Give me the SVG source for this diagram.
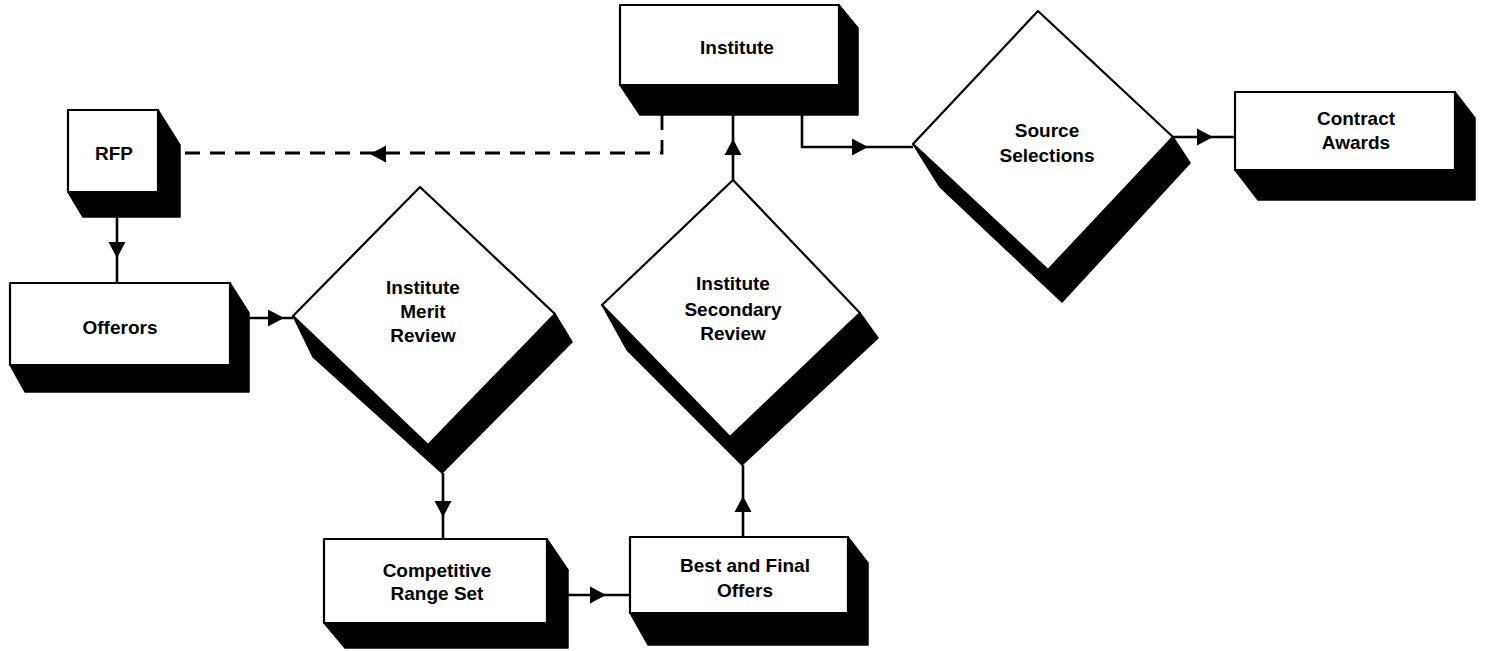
<svg xmlns="http://www.w3.org/2000/svg" xmlns:xlink="http://www.w3.org/1999/xlink" width="1487" height="651" viewBox="0 0 1487 651">
<style>
.bg{fill:#fff}
.face{fill:#fff;stroke:#000;stroke-width:2.2;stroke-linejoin:round}
.shadow{fill:#000;stroke:#000;stroke-width:1.5;stroke-linejoin:round}
.lbl{font-family:"Liberation Sans",Arial,Helvetica,sans-serif;font-weight:bold;font-size:19px;fill:#000;text-anchor:middle}
.conn{fill:none;stroke:#000;stroke-width:2.6}
.dash{fill:none;stroke:#000;stroke-width:2.8;stroke-dasharray:15 10}
.ah{fill:#000}
</style>
<defs>
<path id="ah" d="M0,0 L-16,-8.5 L-16,8.5 Z"/>
</defs>
<rect class="bg" x="0" y="0" width="1487" height="651"/>

<g id="connectors">
  <path class="conn" d="M117,217 V283"/>
  <use xlink:href="#ah" class="ah" transform="translate(117,258) rotate(90)"/>
  <path class="conn" d="M249,318 H293"/>
  <use xlink:href="#ah" class="ah" transform="translate(284,318)"/>
  <path class="conn" d="M443,473 V539"/>
  <use xlink:href="#ah" class="ah" transform="translate(443,517) rotate(90)"/>
  <path class="conn" d="M568,595 H630"/>
  <use xlink:href="#ah" class="ah" transform="translate(606,595)"/>
  <path class="conn" d="M743,537 V465"/>
  <use xlink:href="#ah" class="ah" transform="translate(743,496) rotate(-90)"/>
  <path class="conn" d="M733,180 V115"/>
  <use xlink:href="#ah" class="ah" transform="translate(733,139) rotate(-90)"/>
  <path class="conn" d="M802,115 V147 H913"/>
  <use xlink:href="#ah" class="ah" transform="translate(868,147)"/>
  <path class="conn" d="M1173,137 H1235"/>
  <use xlink:href="#ah" class="ah" transform="translate(1213,137)"/>
  <path class="dash" d="M662,115 V153 H180"/>
  <use xlink:href="#ah" class="ah" transform="translate(370,154) rotate(180)"/>
</g>

<g id="rfp">
  <polygon class="shadow" points="158,110 180,145 180,217 83,217 68,192"/>
  <rect class="face" x="68" y="110" width="90" height="82"/>
  <text class="lbl" x="114" y="160">RFP</text>
</g>

<g id="offerors">
  <polygon class="shadow" points="230,283 249,313 249,392 25,392 10,365"/>
  <rect class="face" x="10" y="283" width="220" height="82"/>
  <text class="lbl" x="120" y="334">Offerors</text>
</g>

<g id="merit">
  <polygon class="shadow" points="293,316 313,357 442,473 572,342 555,314"/>
  <polygon class="face" points="420,187 555,314 428,445 293,316"/>
  <text class="lbl" x="423" y="294">Institute</text>
  <text class="lbl" x="423" y="318">Merit</text>
  <text class="lbl" x="423" y="342">Review</text>
</g>

<g id="competitive">
  <polygon class="shadow" points="547,539 568,570 568,648 345,648 324,623"/>
  <rect class="face" x="324" y="539" width="223" height="84"/>
  <text class="lbl" x="437" y="577">Competitive</text>
  <text class="lbl" x="437" y="600">Range Set</text>
</g>

<g id="best">
  <polygon class="shadow" points="848,537 868,563 868,645 648,645 630,613"/>
  <rect class="face" x="630" y="537" width="218" height="76"/>
  <text class="lbl" x="745" y="572">Best and Final</text>
  <text class="lbl" x="745" y="597">Offers</text>
</g>

<g id="secondary">
  <polygon class="shadow" points="602,305 627,350 742,465 878,338 860,313"/>
  <polygon class="face" points="733,180 860,313 730,437 602,305"/>
  <text class="lbl" x="733" y="290">Institute</text>
  <text class="lbl" x="733" y="316">Secondary</text>
  <text class="lbl" x="733" y="340">Review</text>
</g>

<g id="institute">
  <polygon class="shadow" points="839,5 858,28 858,115 640,115 620,85"/>
  <rect class="face" x="620" y="5" width="219" height="80"/>
  <text class="lbl" x="737" y="54">Institute</text>
</g>

<g id="source">
  <polygon class="shadow" points="913,144 940,187 1062,302 1190,163 1173,137"/>
  <polygon class="face" points="1038,11 1173,137 1048,270 913,144"/>
  <text class="lbl" x="1047" y="137">Source</text>
  <text class="lbl" x="1047" y="162">Selections</text>
</g>

<g id="contract">
  <polygon class="shadow" points="1455,92 1475,118 1475,200 1258,200 1235,170"/>
  <rect class="face" x="1235" y="92" width="220" height="78"/>
  <text class="lbl" x="1356" y="125">Contract</text>
  <text class="lbl" x="1356" y="149">Awards</text>
</g>
</svg>
